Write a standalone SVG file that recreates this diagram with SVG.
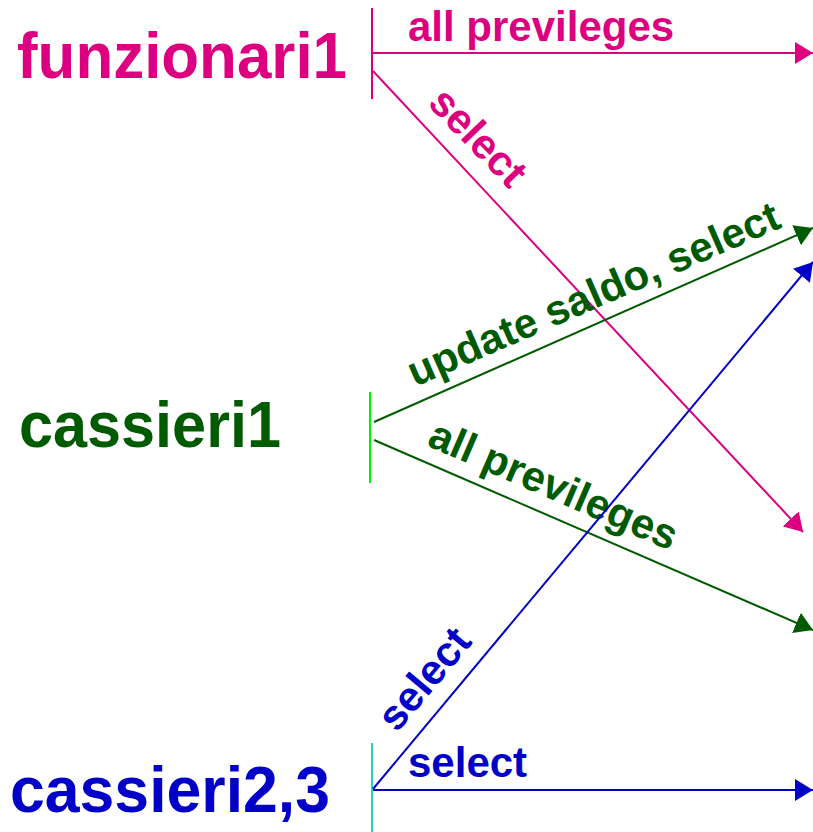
<svg xmlns="http://www.w3.org/2000/svg" width="813" height="832" viewBox="0 0 813 832">
<style>
  text { font-family: "Liberation Sans", Arial, sans-serif; font-weight: bold; }
  .big { font-size: 64px; }
  .lbl { font-size: 42px; }
  .mag { fill: #dc0080; }
  .grn { fill: #005a00; }
  .blu { fill: #0000c8; }
  .edge { fill: none; stroke-width: 2; }
  .bar { stroke-width: 2; }
</style>
<defs>
  <marker id="aM" viewBox="0 0 18 22" markerWidth="18" markerHeight="22" refX="18" refY="11" orient="auto" markerUnits="userSpaceOnUse"><path d="M0,0 L18,11 L0,22 Z" fill="#dc0080"/></marker>
  <marker id="aG" viewBox="0 0 18 22" markerWidth="18" markerHeight="22" refX="18" refY="11" orient="auto" markerUnits="userSpaceOnUse"><path d="M0,0 L18,11 L0,22 Z" fill="#005a00"/></marker>
  <marker id="aB" viewBox="0 0 18 22" markerWidth="18" markerHeight="22" refX="18" refY="11" orient="auto" markerUnits="userSpaceOnUse"><path d="M0,0 L18,11 L0,22 Z" fill="#0000c8"/></marker>
</defs>
<rect width="813" height="832" fill="#ffffff"/>

<g id="funzionari1">
  <text class="big mag" x="17" y="78" textLength="330" lengthAdjust="spacingAndGlyphs">funzionari1</text>
  <line class="bar" x1="372" y1="8" x2="372" y2="99" stroke="#dc0080"/>
</g>
<g id="cassieri1">
  <text class="big grn" x="19" y="447" textLength="262" lengthAdjust="spacingAndGlyphs">cassieri1</text>
  <line class="bar" x1="370" y1="392" x2="370" y2="483" stroke="#00f000"/>
</g>
<g id="cassieri23">
  <text class="big blu" x="10" y="812" textLength="320" lengthAdjust="spacingAndGlyphs">cassieri2,3</text>
  <line class="bar" x1="372" y1="743" x2="372" y2="832" stroke="#20d8c0"/>
</g>

<g id="connectors">
  <line class="edge" x1="373" y1="53" x2="813" y2="53" stroke="#dc0080" marker-end="url(#aM)"/>
  <text class="lbl mag" x="408" y="41">all previleges</text>

  <line class="edge" x1="373" y1="71" x2="803" y2="532" stroke="#dc0080" marker-end="url(#aM)"/>
  <text class="lbl mag" text-anchor="middle" transform="translate(468,147) rotate(46)">select</text>

  <line class="edge" x1="374" y1="422" x2="813" y2="228" stroke="#005a00" marker-end="url(#aG)"/>
  <text class="lbl grn" text-anchor="middle" transform="translate(599,307) rotate(-23.5)">update saldo, select</text>

  <line class="edge" x1="374" y1="440" x2="813" y2="630" stroke="#005a00" marker-end="url(#aG)"/>
  <text class="lbl grn" text-anchor="middle" transform="translate(548,498) rotate(23.4)">all previleges</text>

  <line class="edge" x1="373" y1="789" x2="813" y2="262" stroke="#0000c8" marker-end="url(#aB)"/>
  <text class="lbl blu" text-anchor="middle" transform="translate(435,688) rotate(-50)">select</text>

  <line class="edge" x1="373" y1="790" x2="813" y2="790" stroke="#0000c8" marker-end="url(#aB)"/>
  <text class="lbl blu" x="408" y="777">select</text>
</g>
</svg>
